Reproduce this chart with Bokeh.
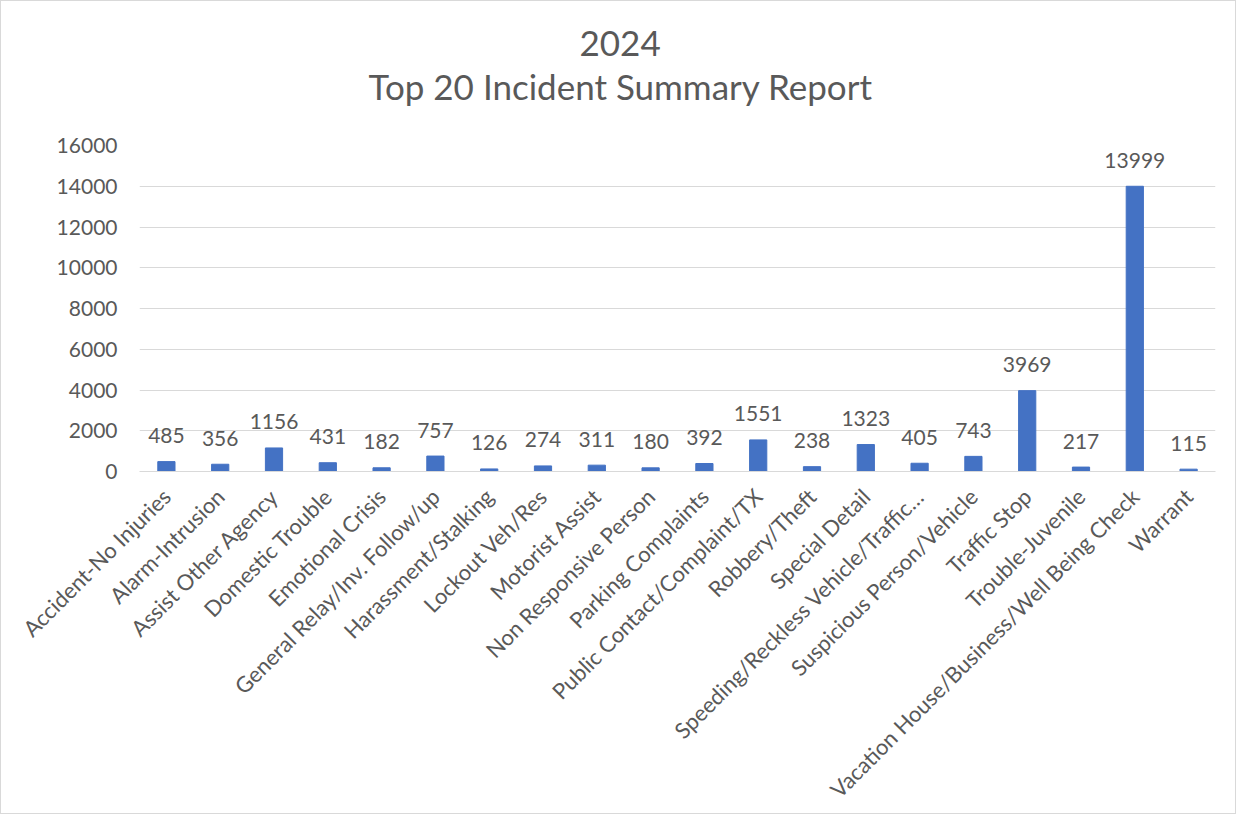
import math
from bokeh.plotting import figure
from bokeh.models import ColumnDataSource, LabelSet, Title, FixedTicker
from bokeh.core.properties import value
from bokeh.embed import file_html
from bokeh.resources import INLINE

categories = [
    "Accident-No Injuries", "Alarm-Intrusion", "Assist Other Agency", "Domestic Trouble",
    "Emotional Crisis", "General Relay/Inv. Follow/up", "Harassment/Stalking",
    "Lockout Veh/Res", "Motorist Assist", "Non Responsive Person", "Parking Complaints",
    "Public Contact/Complaint/TX", "Robbery/Theft", "Special Detail",
    "Speeding/Reckless Vehicle/Traffic\u2026", "Suspicious Person/Vehicle", "Traffic Stop",
    "Trouble-Juvenile", "Vacation House/Business/Well Being Check", "Warrant",
]
counts = [485, 356, 1156, 431, 182, 757, 126, 274, 311, 180, 392,
          1551, 238, 1323, 405, 743, 3969, 217, 13999, 115]
y_ticks = [0, 2000, 4000, 6000, 8000, 10000, 12000, 14000, 16000]
title_lines = ["2024", "Top 20 Incident Summary Report"]

FONT = "Lato"
TXT = "#595959"

src = ColumnDataSource(dict(cat=categories, val=counts, lab=[str(v) for v in counts]))

p = figure(x_range=categories, y_range=(0, 16000), width=1236, height=814,
           output_backend="svg", toolbar_location=None,
           min_border_left=138, min_border_right=22, min_border_top=144,
           min_border_bottom=342)
p.styles = {"border": "1px solid #d9d9d9"}
p.outline_line_color = None
p.background_fill_color = "white"
p.border_fill_color = "white"

# top title line (furthest from plot)
p.title.text = title_lines[0]
p.title.align = "left"
p.title.offset = 440
p.title.text_font = FONT
p.title.text_font_size = "35px"
p.title.text_font_style = "normal"
p.title.text_color = TXT
# empty spacer between the title block and the plot area (closest to plot)
p.add_layout(Title(text=" ", align="left", text_font=FONT, text_font_size="21px",
                   text_color="white"), "above")
# second title line
p.add_layout(Title(text=title_lines[1], align="left", offset=229, standoff=4,
                   text_font=FONT, text_font_size="35px", text_font_style="normal",
                   text_color=TXT), "above")

p.vbar(x="cat", top="val", width=0.32, source=src, color="#4472C4")

labels = LabelSet(x="cat", y="val", text="lab", source=src, text_align="center",
                  text_baseline="middle", y_offset=26, text_font=value(FONT),
                  text_font_size=value("21px"), text_color=TXT)
p.add_layout(labels)

p.xgrid.grid_line_color = None
p.ygrid.grid_line_color = "#d9d9d9"
p.ygrid.grid_line_width = 1

p.yaxis.ticker = FixedTicker(ticks=y_ticks)
p.yaxis.axis_line_color = None
p.yaxis.major_tick_line_color = None
p.yaxis.minor_tick_line_color = None
p.yaxis.major_tick_out = 0
p.yaxis.major_label_standoff = 22
p.yaxis.major_label_text_font = FONT
p.yaxis.major_label_text_font_size = "21px"
p.yaxis.major_label_text_color = TXT

p.xaxis.axis_line_color = "#d9d9d9"
p.xaxis.major_tick_line_color = None
p.xaxis.minor_tick_line_color = None
p.xaxis.major_tick_out = 0
p.xaxis.major_label_standoff = 21
p.xaxis.major_label_orientation = math.pi / 4
p.xaxis.major_label_text_font = FONT
p.xaxis.major_label_text_font_size = "22px"
p.xaxis.major_label_text_color = TXT

open("out.html", "w").write(file_html(p, INLINE))
